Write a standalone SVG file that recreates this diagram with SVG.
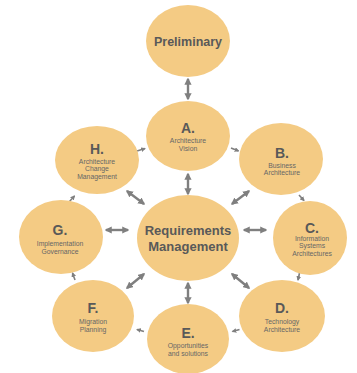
<svg xmlns="http://www.w3.org/2000/svg" width="357" height="373" viewBox="0 0 357 373">
<style>
.node{fill:#F4CB84;}
.big{font-family:"Liberation Sans",Arial,sans-serif;font-weight:bold;fill:#595959;text-anchor:middle;}
.let{font-family:"Liberation Sans",Arial,sans-serif;font-weight:bold;font-size:14px;fill:#595959;text-anchor:middle;}
.sm{font-family:"Liberation Sans",Arial,sans-serif;font-size:6.8px;fill:#666;text-anchor:middle;}
.dbl{stroke:#7f7f7f;stroke-width:2.4;fill:none;marker-start:url(#ah);marker-end:url(#ah);}
.one{stroke:#7f7f7f;stroke-width:1.6;fill:none;marker-end:url(#sh);}
</style>
<defs>
<marker id="ah" viewBox="0 0 10 10" refX="8" refY="5" markerWidth="3" markerHeight="3" orient="auto-start-reverse" markerUnits="strokeWidth">
<path d="M0,0 L10,5 L0,10 z" fill="#7f7f7f"/>
</marker>
<marker id="sh" viewBox="0 0 10 10" refX="8" refY="5" markerWidth="3" markerHeight="3" orient="auto" markerUnits="strokeWidth">
<path d="M0,0 L10,5 L0,10 z" fill="#7f7f7f"/>
</marker>
</defs>
<rect width="357" height="373" fill="#fff"/>
<g id="connectors">
<line class="dbl" x1="188" y1="79" x2="188" y2="99"/>
<line class="dbl" x1="188" y1="174" x2="188" y2="194"/>
<line class="dbl" x1="188" y1="283" x2="188" y2="303"/>
<line class="dbl" x1="106" y1="230" x2="128" y2="230"/>
<line class="dbl" x1="244" y1="230" x2="266" y2="230"/>
<line class="dbl" x1="127" y1="191" x2="144" y2="204"/>
<line class="dbl" x1="232" y1="204" x2="249" y2="191"/>
<line class="dbl" x1="144" y1="274" x2="127" y2="288"/>
<line class="dbl" x1="232" y1="274" x2="249" y2="288"/>
<line class="one" x1="137" y1="151" x2="145" y2="148.5"/>
<line class="one" x1="231" y1="148" x2="238.5" y2="151"/>
<line class="one" x1="299" y1="195" x2="304" y2="200.5"/>
<line class="one" x1="299.5" y1="273" x2="298" y2="280"/>
<line class="one" x1="239.5" y1="329.5" x2="232.5" y2="331.5"/>
<line class="one" x1="144" y1="331.5" x2="137" y2="329.5"/>
<line class="one" x1="75" y1="280" x2="72.5" y2="273"/>
<line class="one" x1="69" y1="202" x2="74.5" y2="196"/>
</g>
<g id="preliminary">
<ellipse class="node" cx="188" cy="41" rx="42" ry="36"/>
<text class="big" font-size="12.5" x="188" y="45.5">Preliminary</text>
</g>
<g id="requirements">
<ellipse class="node" cx="188" cy="238" rx="51" ry="43"/>
<text class="big" font-size="13" x="188" y="235">Requirements</text>
<text class="big" font-size="13" x="188" y="251">Management</text>
</g>
<g id="nodeA">
<ellipse class="node" cx="188" cy="136" rx="42" ry="35"/>
<text class="let" x="188" y="133">A.</text>
<text class="sm" x="188" y="143">Architecture</text>
<text class="sm" x="188" y="150.5">Vision</text>
</g>
<g id="nodeB">
<ellipse class="node" cx="281" cy="159" rx="42" ry="36"/>
<text class="let" x="282" y="158">B.</text>
<text class="sm" x="282" y="167.5">Business</text>
<text class="sm" x="282" y="175">Architecture</text>
</g>
<g id="nodeC">
<ellipse class="node" cx="310" cy="238" rx="37" ry="37"/>
<text class="let" x="312" y="233">C.</text>
<text class="sm" x="312" y="240.5">Information</text>
<text class="sm" x="312" y="248">Systems</text>
<text class="sm" x="312" y="256">Architectures</text>
</g>
<g id="nodeD">
<ellipse class="node" cx="282" cy="316" rx="43" ry="36"/>
<text class="let" x="282" y="313">D.</text>
<text class="sm" x="282" y="323.5">Technology</text>
<text class="sm" x="282" y="331.5">Architecture</text>
</g>
<g id="nodeE">
<ellipse class="node" cx="188" cy="339" rx="41" ry="35"/>
<text class="let" x="188" y="338">E.</text>
<text class="sm" x="188" y="347.5">Opportunities</text>
<text class="sm" x="188" y="355.5">and solutions</text>
</g>
<g id="nodeF">
<ellipse class="node" cx="93" cy="316" rx="41" ry="36"/>
<text class="let" x="93" y="313">F.</text>
<text class="sm" x="93" y="323.5">Migration</text>
<text class="sm" x="93" y="331.5">Planning</text>
</g>
<g id="nodeG">
<ellipse class="node" cx="61" cy="237" rx="42" ry="37"/>
<text class="let" x="60" y="235">G.</text>
<text class="sm" x="60" y="245.5">Implementation</text>
<text class="sm" x="60" y="253.5">Governance</text>
</g>
<g id="nodeH">
<ellipse class="node" cx="97" cy="160" rx="42" ry="34"/>
<text class="let" x="97" y="154">H.</text>
<text class="sm" x="97" y="163.5">Architecture</text>
<text class="sm" x="97" y="171">Change</text>
<text class="sm" x="97" y="178.5">Management</text>
</g>
</svg>
